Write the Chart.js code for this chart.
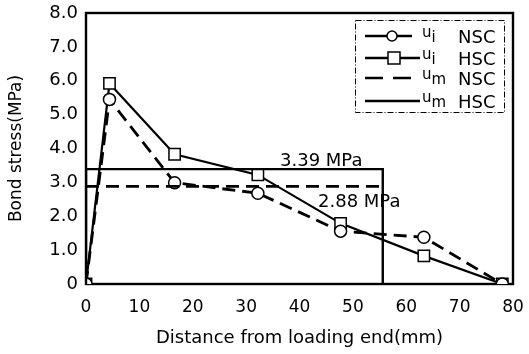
<!DOCTYPE html>
<html>
<head>
<meta charset="utf-8">
<script src="https://cdn.jsdelivr.net/npm/chart.js@4"></script>
<style>
html,body{margin:0;padding:0;background:#fff;}
#wrap{width:529px;height:354px;position:relative;}
</style>
</head>
<body>
<div id="wrap"><canvas id="c" width="529" height="354"></canvas></div>
<script>
// Data
const distances = [0, 4.4, 16.6, 32.2, 47.7, 63.3, 78];
const uiNSC = [0, 5.45, 2.99, 2.68, 1.56, 1.38, 0];
const uiHSC = [0, 5.92, 3.83, 3.22, 1.79, 0.83, 0];
const umNSC = 2.88;
const umHSC = 3.39;
const umEnd = 55.6;
const xTicks = [0, 10, 20, 30, 40, 50, 60, 70, 80];
const yTicks = [0, 1, 2, 3, 4, 5, 6, 7, 8];
const legendLabels = [['u','i','NSC'], ['u','i','HSC'], ['u','m','NSC'], ['u','m','HSC']];
const annotations = [['3.39 MPa', umHSC], ['2.88 MPa', umNSC]];

const FONT = '"DejaVu Sans", sans-serif';

const toPts = (xs, ys) => xs.map((x, i) => ({x, y: ys[i]}));

const datasets = [
  {
    label: 'um HSC',
    data: [{x:0,y:0},{x:0,y:umHSC},{x:umEnd,y:umHSC},{x:umEnd,y:0}],
    borderColor:'#000', borderWidth:2.4, pointRadius:0, fill:false, tension:0
  },
  {
    label: 'um NSC',
    data: [{x:0,y:umNSC},{x:umEnd,y:umNSC}],
    borderColor:'#000', borderWidth:2.8, borderDash:[13,7], pointRadius:0, fill:false, tension:0
  },
  {
    label: 'ui NSC',
    data: toPts(distances, uiNSC),
    borderColor:'#000', borderWidth:2.8, borderDash:[13,7], pointStyle:'circle', pointRadius:6,
    pointBackgroundColor:'#fff', pointBorderColor:'#000', pointBorderWidth:1.5, fill:false, tension:0
  },
  {
    label: 'ui HSC',
    data: toPts(distances, uiHSC),
    borderColor:'#000', borderWidth:2.2, pointStyle:'rect', pointRadius:8,
    pointBackgroundColor:'#fff', pointBorderColor:'#000', pointBorderWidth:1.5, fill:false, tension:0
  }
];

const decor = {
  id:'decor',
  beforeDatasetsDraw(chart){
    const {ctx, chartArea:a} = chart;
    ctx.save();
    ctx.strokeStyle='#000'; ctx.lineWidth=2.4;
    ctx.strokeRect(a.left, a.top, a.right-a.left, a.bottom-a.top);
    ctx.restore();
  },
  afterDatasetsDraw(chart){
    const {ctx, scales} = chart;
    const ys = scales.y;
    ctx.save();
    ctx.fillStyle='#000';
    ctx.textBaseline='alphabetic';
    ctx.font = '18px ' + FONT;
    // annotations
    ctx.textAlign='left';
    ctx.fillText(annotations[0][0], 280, ys.getPixelForValue(annotations[0][1]) - 3);
    ctx.fillText(annotations[1][0], 318, ys.getPixelForValue(annotations[1][1]) + 21);
    // legend box
    const bx=355, by=20, bw=149, bh=92;
    ctx.strokeStyle='#000'; ctx.lineWidth=1;
    ctx.setLineDash([6,2,1,2]);
    ctx.strokeRect(bx+0.5, by+0.5, bw, bh);
    ctx.setLineDash([]);
    const rows=[36, 58, 78, 101];
    const styles=[
      {dash:[], w:2.6, marker:'circle', end:412},
      {dash:[], w:2.4, marker:'rect', end:420},
      {dash:[18,10], w:2.6, marker:null, end:418},
      {dash:[], w:2.4, marker:null, end:420}
    ];
    rows.forEach((ry, i) => {
      const s = styles[i];
      ctx.beginPath();
      ctx.setLineDash(s.dash);
      ctx.lineWidth=s.w;
      ctx.strokeStyle='#000';
      ctx.moveTo(365, ry); ctx.lineTo(s.end, ry); ctx.stroke();
      ctx.setLineDash([]);
      if (s.marker==='circle'){
        ctx.beginPath(); ctx.fillStyle='#fff'; ctx.lineWidth=1.5;
        ctx.arc(392, ry, 5, 0, Math.PI*2); ctx.fill(); ctx.stroke();
      } else if (s.marker==='rect'){
        ctx.fillStyle='#fff'; ctx.lineWidth=1.5;
        ctx.fillRect(388, ry-6, 12, 12); ctx.strokeRect(388, ry-6, 12, 12);
      }
      ctx.fillStyle='#000';
      const [u, sub, name] = legendLabels[i];
      ctx.font = '15px ' + FONT;
      ctx.textAlign='left';
      ctx.fillText(u, 422, ry+1);
      const uw = ctx.measureText(u).width;
      ctx.fillText(sub, 422+uw, ry+6);
      ctx.font = '18px ' + FONT;
      ctx.fillText(name, 458, ry+7);
    });
    ctx.restore();
  }
};

new Chart(document.getElementById('c'), {
  type:'line',
  data:{datasets},
  options:{
    responsive:false, animation:false, devicePixelRatio:1,
    layout:{padding:{left:0, right:16, top:13, bottom:0}},
    plugins:{legend:{display:false}, tooltip:{enabled:false}},
    scales:{
      x:{
        type:'linear', min:0, max:80,
        afterBuildTicks(ax){ ax.ticks = xTicks.map(v=>({value:v})); },
        grid:{display:false, drawTicks:false, tickLength:0},
        border:{display:false},
        ticks:{color:'#000', font:{family:FONT, size:17}, padding:13, maxRotation:0},
        title:{display:true, text:'Distance from loading end(mm)', color:'#000', font:{family:FONT, size:18}, padding:{top:0,bottom:5}},
        afterFit(ax){ ax.height = 70; ax.paddingLeft = 0; ax.paddingRight = 0; }
      },
      y:{
        type:'linear', min:0, max:8,
        afterBuildTicks(ax){ ax.ticks = yTicks.map(v=>({value:v})); },
        grid:{display:false, drawTicks:false, tickLength:0},
        border:{display:false},
        ticks:{color:'#000', font:{family:FONT, size:18}, padding:8,
          callback:(v)=> v===0 ? '0' : v.toFixed(1)},
        title:{display:true, text:'Bond stress(MPa)', color:'#000', font:{family:FONT, size:17}, padding:{top:6,bottom:0}},
        afterFit(ax){ ax.width = 86; ax.paddingTop = 0; ax.paddingBottom = 0; }
      }
    }
  },
  plugins:[decor]
});
</script>
</body>
</html>
